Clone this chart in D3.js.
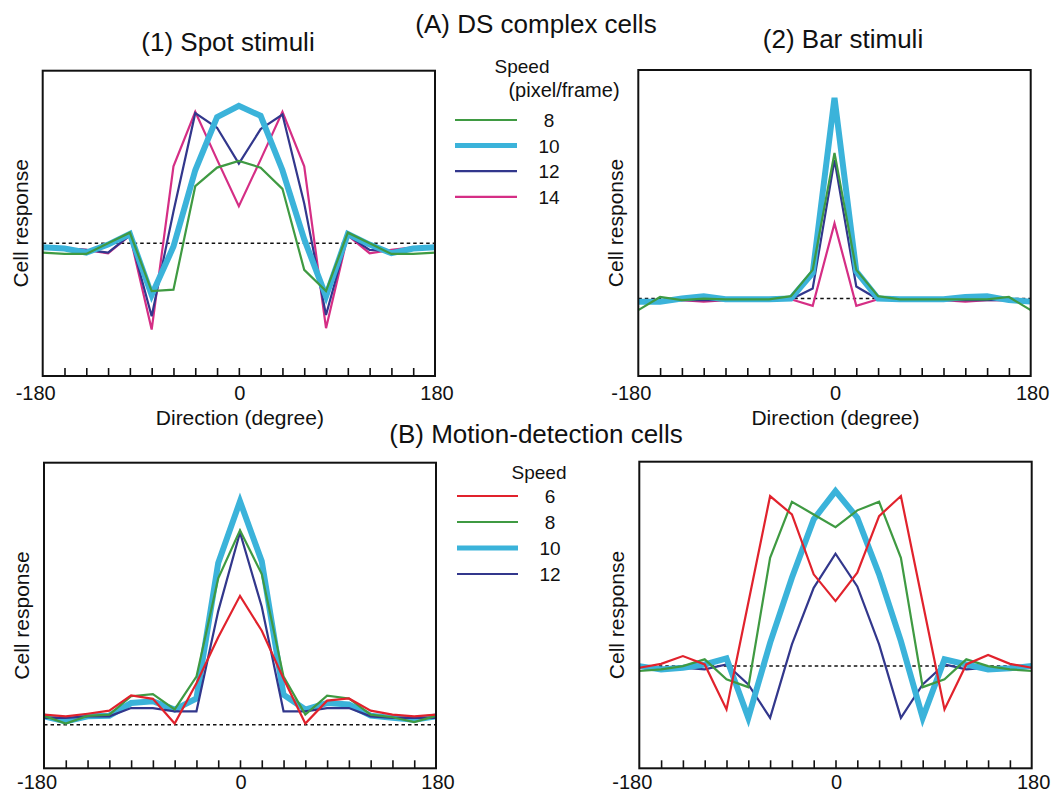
<!DOCTYPE html>
<html>
<head>
<meta charset="utf-8">
<script src="https://cdn.jsdelivr.net/npm/d3@7"></script>
<style>
  body { margin: 0; background: white; }
  text { font-family: "Liberation Sans", Arial, sans-serif; fill: #111; }
</style>
</head>
<body>
<div id="viz"></div>
<script>
// directions (degree) shared by every panel
var directions = [-180, -160, -140, -120, -100, -80, -60, -40, -20, 0, 20, 40, 60, 80, 100, 120, 140, 160, 180];
var tickLabels = [-180, 0, 180];

// (A)(1) DS complex cells, spot stimuli
var spotSpeed8  = [-0.07, -0.08, -0.08, 0, 0.08, -0.36, -0.35, 0.43, 0.57, 0.62, 0.57, 0.41, -0.2, -0.36, 0.08, 0, -0.08, -0.08, -0.07];
var spotSpeed10 = [-0.03, -0.04, -0.07, -0.01, 0.07, -0.39, -0.025, 0.55, 0.95, 1.035, 0.96, 0.55, 0.03, -0.4, 0.07, -0.01, -0.075, -0.04, -0.03];
var spotSpeed12 = [-0.03, -0.04, -0.05, -0.07, 0.06, -0.55, 0.24, 0.98, 0.87, 0.6, 0.86, 0.97, 0.3, -0.54, 0.06, -0.05, -0.06, -0.03, -0.03];
var spotSpeed14 = [-0.03, -0.04, -0.05, -0.075, 0.06, -0.65, 0.58, 0.99, 0.63, 0.28, 0.63, 0.99, 0.58, -0.64, 0.06, -0.075, -0.05, -0.03, -0.02];

// (A)(2) DS complex cells, bar stimuli
var barSpeed8  = [-0.15, 0.02, -0.02, 0, -0.01, -0.01, -0.01, 0.03, 0.37, 1.88, 0.37, 0.03, -0.01, -0.01, -0.01, -0.01, -0.01, 0.02, -0.15];
var barSpeed10 = [-0.04, -0.04, 0, 0.03, -0.01, -0.01, -0.01, 0, 0.33, 2.59, 0.35, 0, -0.01, -0.01, -0.01, 0.02, 0.03, -0.02, -0.04];
var barSpeed12 = [-0.02, -0.02, -0.02, -0.02, -0.02, -0.02, -0.02, -0.01, 0.13, 1.79, 0.155, -0.01, -0.02, -0.02, -0.02, -0.02, -0.02, -0.02, -0.02];
var barSpeed14 = [-0.02, -0.02, -0.02, -0.04, -0.02, -0.02, -0.02, -0.01, -0.095, 0.97, -0.095, -0.01, -0.02, -0.02, -0.02, -0.04, -0.02, -0.02, -0.02];

// (B) motion-detection cells, spot stimuli
var mdSpotSpeed6  = [0.046, 0.038, 0.05, 0.064, 0.134, 0.118, 0.005, 0.19, 0.4, 0.59, 0.43, 0.21, 0.005, 0.11, 0.12, 0.064, 0.046, 0.038, 0.046];
var mdSpotSpeed8  = [0.04, 0.005, 0.04, 0.046, 0.13, 0.14, 0.07, 0.22, 0.67, 0.89, 0.69, 0.22, 0.046, 0.133, 0.12, 0.046, 0.034, 0.012, 0.04];
var mdSpotSpeed10 = [0.038, 0.015, 0.038, 0.041, 0.099, 0.107, 0.069, 0.12, 0.74, 1.023, 0.748, 0.137, 0.069, 0.099, 0.092, 0.041, 0.031, 0.023, 0.038];
var mdSpotSpeed12 = [0.031, 0.031, 0.038, 0.038, 0.076, 0.076, 0.061, 0.061, 0.52, 0.88, 0.54, 0.061, 0.061, 0.076, 0.076, 0.038, 0.031, 0.031, 0.031];

// (B) motion-detection cells, bar stimuli
var mdBarSpeed6  = [-0.008, 0.011, 0.049, 0.008, -0.212, 0.31, 0.832, 0.742, 0.449, 0.318, 0.457, 0.734, 0.832, 0.31, -0.212, 0.008, 0.054, 0.011, -0.008];
var mdBarSpeed8  = [-0.024, -0.016, 0, 0.033, -0.065, -0.103, 0.53, 0.804, 0.742, 0.68, 0.762, 0.804, 0.53, -0.103, -0.065, 0.033, 0, -0.016, -0.024];
var mdBarSpeed10 = [0, -0.016, -0.008, 0.008, 0.038, -0.253, 0.114, 0.432, 0.718, 0.856, 0.726, 0.449, 0.122, -0.253, 0.033, 0.008, -0.016, -0.011, 0];
var mdBarSpeed12 = [-0.005, -0.008, -0.008, -0.016, 0.008, -0.09, -0.253, 0.106, 0.383, 0.55, 0.39, 0.106, -0.253, -0.09, 0.008, -0.016, -0.008, -0.008, -0.005];

var legendA = ['8', '10', '12', '14'];
var legendB = ['6', '8', '10', '12'];

var colors = {
  green: '#3f9a42',
  cyan: '#3bb3da',
  navy: '#32378c',
  pink: '#d52e85',
  red: '#e1222c'
};

var width = 1051, height = 796;

var svg = d3.select('#viz').append('svg')
    .attr('width', width)
    .attr('height', height);

function styleFor(name){
  if (name == 'cyan') return 6;
  return 2.2;
}

function drawPanel(p){
  var x = d3.scaleLinear().domain([-180, 180]).range([p.left, p.right]);
  var y = d3.scaleLinear().domain(p.domain).range([p.bottom, p.top]);

  var g = svg.append('g');

  // dashed zero line
  g.append('line')
    .attr('x1', x(-180)).attr('x2', x(180))
    .attr('y1', y(0)).attr('y2', y(0))
    .attr('stroke', '#111')
    .attr('stroke-width', 1.5)
    .attr('stroke-dasharray', '3.5,3');

  var line = d3.line()
    .x(function(d, i){ return x(directions[i]); })
    .y(function(d){ return y(d); });

  p.series.forEach(function(s){
    g.append('path')
      .datum(s.values)
      .attr('fill', 'none')
      .attr('stroke', colors[s.color])
      .attr('stroke-width', styleFor(s.color))
      .attr('stroke-linejoin', 'miter')
      .attr('d', line);
  });

  // frame
  g.append('rect')
    .attr('x', p.left).attr('y', p.top)
    .attr('width', p.right - p.left)
    .attr('height', p.bottom - p.top)
    .attr('fill', 'none')
    .attr('stroke', '#111')
    .attr('stroke-width', 2);

  // inward ticks every 20 degree
  var ax = g.append('g')
    .attr('transform', 'translate(0,' + p.bottom + ')')
    .call(d3.axisBottom(x).tickValues(directions.slice(1, -1)).tickSizeInner(-8).tickSizeOuter(0).tickFormat(''));
  ax.select('.domain').remove();
  ax.selectAll('line').attr('stroke', '#111').attr('stroke-width', 1.6);

  g.selectAll('.tlabel')
    .data(tickLabels)
    .enter().append('text')
    .attr('class', 'tlabel')
    .attr('x', function(d){ return x(d) + (d < 0 ? -7 : (d > 0 ? 2 : 1)); })
    .attr('y', p.bottom + p.tickDy)
    .attr('text-anchor', 'middle')
    .style('font-size', '20px')
    .text(function(d){ return d; });

  // y label
  g.append('text')
    .attr('transform', 'translate(' + p.ylabelX + ',' + ((p.top + p.bottom) / 2) + ') rotate(-90)')
    .attr('text-anchor', 'middle')
    .style('font-size', '21px')
    .text('Cell response');

  if (p.xlabel){
    g.append('text')
      .attr('x', (p.left + p.right) / 2 + 1)
      .attr('y', p.bottom + 49)
      .attr('text-anchor', 'middle')
      .style('font-size', '21px')
      .text('Direction (degree)');
  }
}

drawPanel({
  left: 42.7, right: 435, top: 70.7, bottom: 376, domain: [-1, 1.3],
  tickDy: 24, ylabelX: 28, xlabel: true,
  series: [
    {color: 'pink', values: spotSpeed14},
    {color: 'navy', values: spotSpeed12},
    {color: 'cyan', values: spotSpeed10},
    {color: 'green', values: spotSpeed8}
  ]
});

drawPanel({
  left: 638.3, right: 1030.7, top: 70, bottom: 376, domain: [-1, 2.95],
  tickDy: 24, ylabelX: 623, xlabel: true,
  series: [
    {color: 'pink', values: barSpeed14},
    {color: 'navy', values: barSpeed12},
    {color: 'cyan', values: barSpeed10},
    {color: 'green', values: barSpeed8}
  ]
});

drawPanel({
  left: 44, right: 436, top: 462.7, bottom: 768.3, domain: [-0.2, 1.2],
  tickDy: 21, ylabelX: 29, xlabel: false,
  series: [
    {color: 'cyan', values: mdSpotSpeed10},
    {color: 'navy', values: mdSpotSpeed12},
    {color: 'green', values: mdSpotSpeed8},
    {color: 'red', values: mdSpotSpeed6}
  ]
});

drawPanel({
  left: 639.3, right: 1031.7, top: 461.7, bottom: 768.3, domain: [-0.5, 1],
  tickDy: 21, ylabelX: 624, xlabel: false,
  series: [
    {color: 'navy', values: mdBarSpeed12},
    {color: 'cyan', values: mdBarSpeed10},
    {color: 'green', values: mdBarSpeed8},
    {color: 'red', values: mdBarSpeed6}
  ]
});

// titles
svg.append('text').attr('x', 536).attr('y', 33).attr('text-anchor', 'middle')
  .style('font-size', '26px').text('(A) DS complex cells');
svg.append('text').attr('x', 228).attr('y', 51).attr('text-anchor', 'middle')
  .style('font-size', '26px').text('(1) Spot stimuli');
svg.append('text').attr('x', 843).attr('y', 48).attr('text-anchor', 'middle')
  .style('font-size', '26px').text('(2) Bar stimuli');
svg.append('text').attr('x', 536).attr('y', 443).attr('text-anchor', 'middle')
  .style('font-size', '26px').text('(B) Motion-detection cells');

// legend A
svg.append('text').attr('x', 522).attr('y', 73).attr('text-anchor', 'middle')
  .style('font-size', '19px').text('Speed');
svg.append('text').attr('x', 564).attr('y', 97).attr('text-anchor', 'middle')
  .style('font-size', '20px').text('(pixel/frame)');
var legendAColors = ['green', 'cyan', 'navy', 'pink'];
var legA = svg.append('g');
legendA.forEach(function(lbl, i){
  var ly = 120 + i * 25.6;
  legA.append('line')
    .attr('x1', 455).attr('x2', 517).attr('y1', ly).attr('y2', ly)
    .attr('stroke', colors[legendAColors[i]])
    .attr('stroke-width', legendAColors[i] == 'cyan' ? 5 : 2.2);
  legA.append('text')
    .attr('x', 549).attr('y', ly + 7)
    .attr('text-anchor', 'middle')
    .style('font-size', '19px')
    .text(lbl);
});

// legend B
svg.append('text').attr('x', 539).attr('y', 479).attr('text-anchor', 'middle')
  .style('font-size', '19px').text('Speed');
var legendBColors = ['red', 'green', 'cyan', 'navy'];
var legB = svg.append('g');
legendB.forEach(function(lbl, i){
  var ly = 496 + i * 26;
  legB.append('line')
    .attr('x1', 457).attr('x2', 518).attr('y1', ly).attr('y2', ly)
    .attr('stroke', colors[legendBColors[i]])
    .attr('stroke-width', legendBColors[i] == 'cyan' ? 5 : 2.2);
  legB.append('text')
    .attr('x', 550).attr('y', ly + 7)
    .attr('text-anchor', 'middle')
    .style('font-size', '19px')
    .text(lbl);
});
</script>
</body>
</html>
